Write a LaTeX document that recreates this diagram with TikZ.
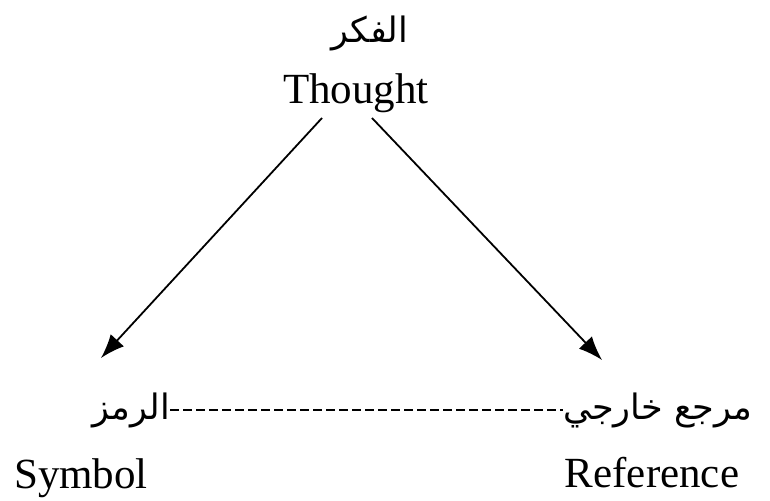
\documentclass[tikz,border=0pt]{standalone}
\usepackage{fontspec}
\setmainfont{Liberation Serif}
\newfontfamily\arabicfont[Script=Arabic]{DejaVu Sans}
\TeXXeTstate=1
\usetikzlibrary{arrows.meta}
\begin{document}
\begin{tikzpicture}[x=1pt,y=-1pt,
  lat/.style={font=\fontsize{43}{48}\selectfont, inner sep=0pt},
  arb/.style={font=\arabicfont\fontsize{35}{40}\selectfont, inner sep=0pt},
  arr/.style={line width=1.8pt, -{Latex[length=24pt,width=18pt]}},
  dsh/.style={line width=1.3pt, dash pattern=on 9pt off 4pt}]
\useasboundingbox (0,0) rectangle (770,500);
\node[arb] (fikr) at (370,33) {\beginR الفكر\endR};
\node[lat, anchor=base] (thought) at (356,103) {Thought};
\node[lat, anchor=base] (symbol) at (81,488) {Symbol};
\node[lat, anchor=base] (reference) at (652,487) {Reference};
\node[arb, anchor=east] (ramz) at (170,410) {\beginR الرمز\endR};
\node[arb, anchor=west] (marja) at (563,410) {\beginR مرجع خارجي\endR};
\coordinate (tl) at (322,118);
\coordinate (tr) at (372,118);
\coordinate (sl) at (101,358);
\coordinate (sr) at (602,360);
\draw[arr] (tl) -- (sl);
\draw[arr] (tr) -- (sr);
\draw[dsh] (ramz.east) -- (marja.west);
\end{tikzpicture}
\end{document}
